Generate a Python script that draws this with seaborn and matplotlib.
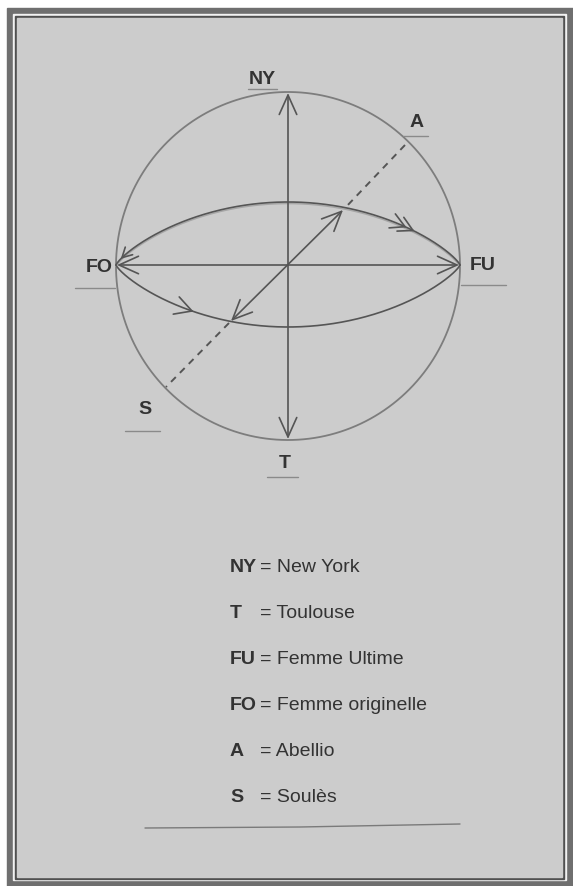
import numpy as np
import matplotlib
matplotlib.use("Agg")
import matplotlib.pyplot as plt
from matplotlib.patches import Rectangle
import seaborn as sns

# --- Data (pixel-like coordinates of the drawing, y grows downward) ---
CENTER = (288, 266)
RADIUS_X, RADIUS_Y = 172, 174
ARC_UP, ARC_DOWN = 63, 62
LENS_POWER = 0.8  # profile of the hand drawn arcs

point_names = ["NY", "A", "FO", "FU", "S", "T"]
label_x = [262, 417, 99, 483, 145, 285]
label_y = [79, 122, 268, 266, 409, 463]
underline_x0 = [248, 403, 75, 461, 125, 267]
underline_x1 = [277, 428, 115, 506, 160, 298]
underline_y = [89, 136, 288, 285, 431, 477]

legend_abbr = ["NY", "T", "FU", "FO", "A", "S"]
legend_name = ["New York", "Toulouse", "Femme Ultime", "Femme originelle", "Abellio", "Soulès"]
legend_y = [567, 613, 659, 705, 752, 797]

# axis endpoints: NY-T, FO-FU, S-A
axis_start = [(288, 93), (117, 265), (231, 321)]
axis_end = [(288, 439), (459, 265), (343, 210)]
dash_start = [(405, 145), (229, 323)]
dash_end = [(345, 208), (166, 387)]

# x positions of the chevron tips along the arcs
upper_chevrons = [405, 413]
lower_chevrons = [192]

PEN = "#555555"
PEN_LIGHT = "#7d7d7d"
BG = "#cccccc"

sns.set_theme(style="white")
plt.rcParams["font.family"] = ["Liberation Sans", "DejaVu Sans"]

fig = plt.figure(figsize=(5.73, 8.86), dpi=100, facecolor="white")
ax = fig.add_axes([0, 0, 1, 1])
ax.set_xlim(0, 573)
ax.set_ylim(886, 0)
ax.axis("off")

# --- frame ---
ax.add_patch(Rectangle((7, 8), 566, 878, color="#6f6f6f", zorder=0))
ax.add_patch(Rectangle((13, 14), 553, 866, color="#f2f2f2", zorder=0))
ax.add_patch(Rectangle((15, 16), 549, 863, color="#505050", zorder=0))
ax.add_patch(Rectangle((17, 18), 545, 859, color=BG, zorder=0))


def pen_line(x, y, color=PEN, lw=1.2, z=3):
    sns.lineplot(x=x, y=y, sort=False, estimator=None, errorbar=None,
                 ax=ax, color=color, lw=lw, zorder=z, legend=False)


# --- circle ---
t = np.linspace(0, 2 * np.pi, 400)
pen_line(CENTER[0] + RADIUS_X * np.cos(t), CENTER[1] + RADIUS_Y * np.sin(t),
         color=PEN_LIGHT, lw=1.3, z=2)


# --- lens shaped arcs FO -> FU ---
def lens_y(x, sag, sign):
    u = np.clip((x - CENTER[0]) / RADIUS_X, -1, 1)
    return 265 - sign * sag * (1 - u ** 2) ** LENS_POWER


def lens_slope(x, sag, sign, h=0.5):
    return (lens_y(x + h, sag, sign) - lens_y(x - h, sag, sign)) / (2 * h)


arc_x = np.linspace(CENTER[0] - RADIUS_X, CENTER[0] + RADIUS_X, 300)
pen_line(arc_x, lens_y(arc_x, ARC_UP, 1) + 1.6, color="#a6a6a6", lw=1.0)
pen_line(arc_x, lens_y(arc_x, ARC_UP, 1))
pen_line(arc_x, lens_y(arc_x, ARC_DOWN, -1))


def chevron(x, y, dx, dy, size=15, spread=0.5):
    # open "V" head pointing along (dx, dy)
    ang = np.arctan2(dy, dx)
    for sgn in (-1, 1):
        a = ang + np.pi + sgn * spread
        ax.plot([x, x + size * np.cos(a)], [y, y + size * np.sin(a)],
                color=PEN, lw=1.2, solid_capstyle="round", zorder=4)


for cx in upper_chevrons:
    chevron(cx, lens_y(cx, ARC_UP, 1), 1, lens_slope(cx, ARC_UP, 1), size=16)
for cx in lower_chevrons:
    chevron(cx, lens_y(cx, ARC_DOWN, -1), 1, lens_slope(cx, ARC_DOWN, -1), size=19)
# head of the upper arc at FO
hx = CENTER[0] - RADIUS_X + 6
chevron(hx, lens_y(hx, ARC_UP, 1), -1, -lens_slope(hx, ARC_UP, 1), size=11)

# --- axes with heads at both ends ---
for (x0, y0), (x1, y1) in zip(axis_start, axis_end):
    ax.annotate("", xy=(x1, y1), xytext=(x0, y0),
                arrowprops=dict(arrowstyle="<->,head_length=1.0,head_width=0.45",
                                color=PEN, lw=1.2, shrinkA=0, shrinkB=0,
                                mutation_scale=14), zorder=4)

for (x0, y0), (x1, y1) in zip(dash_start, dash_end):
    ax.plot([x0, x1], [y0, y1], color=PEN, lw=1.4, ls=(0, (3.5, 3)), zorder=3)

# --- point labels with small underlines ---
for name, lx, ly, ux0, ux1, uy in zip(point_names, label_x, label_y,
                                      underline_x0, underline_x1, underline_y):
    ax.text(lx, ly, name, ha="center", va="center", fontsize=14,
            fontweight="bold", color="#333333", zorder=5)
    ax.plot([ux0, ux1], [uy, uy], color="#8a8a8a", lw=1.0, zorder=3)

# --- legend ---
for abbr, name, ly in zip(legend_abbr, legend_name, legend_y):
    ax.text(230, ly, abbr, ha="left", va="center", fontsize=14,
            fontweight="bold", color="#333333")
    ax.text(260, ly, "= " + name, ha="left", va="center", fontsize=14,
            color="#333333")

ax.plot([145, 300, 460], [828, 827, 824], color="#7a7a7a", lw=1.0)

fig.savefig("out.png", dpi=100, facecolor="white")
